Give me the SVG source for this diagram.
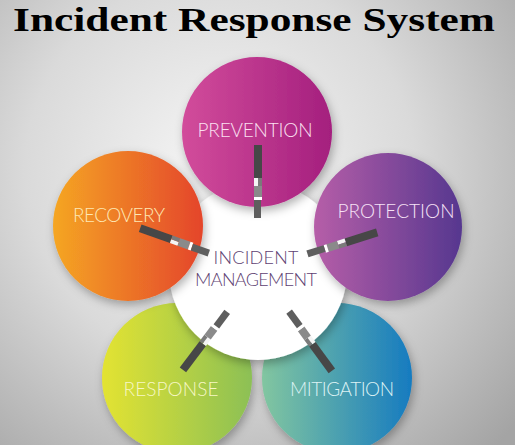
<svg xmlns="http://www.w3.org/2000/svg" width="515" height="445" viewBox="0 0 515 445">
  <defs>
    <radialGradient id="bg" cx="220" cy="170" r="390" gradientUnits="userSpaceOnUse">
      <stop offset="0" stop-color="#f6f6f6"/>
      <stop offset="0.5" stop-color="#dadada"/>
      <stop offset="1" stop-color="#a4a4a4"/>
    </radialGradient>
    <linearGradient id="gPrev" x1="0" y1="0" x2="1" y2="0">
      <stop offset="0" stop-color="#d24c9b"/>
      <stop offset="1" stop-color="#a41f7e"/>
    </linearGradient>
    <linearGradient id="gRec" x1="0" y1="0" x2="1" y2="0">
      <stop offset="0" stop-color="#f5a623"/>
      <stop offset="1" stop-color="#e4452c"/>
    </linearGradient>
    <linearGradient id="gProt" x1="0" y1="0" x2="1" y2="0">
      <stop offset="0" stop-color="#b65ea8"/>
      <stop offset="1" stop-color="#56378f"/>
    </linearGradient>
    <linearGradient id="gResp" x1="0" y1="0" x2="1" y2="0">
      <stop offset="0" stop-color="#e3e332"/>
      <stop offset="1" stop-color="#8cc055"/>
    </linearGradient>
    <linearGradient id="gMit" x1="0" y1="0" x2="1" y2="0">
      <stop offset="0" stop-color="#82c6a0"/>
      <stop offset="1" stop-color="#167bc0"/>
    </linearGradient>
    <filter id="sh" x="-30%" y="-30%" width="160%" height="160%">
      <feDropShadow dx="2" dy="4" stdDeviation="5" flood-color="#000" flood-opacity="0.3"/>
    </filter>
    <g id="bar">
      <rect x="92" y="-4" width="33" height="8" fill="#474747"/>
      <rect x="84" y="-4" width="8" height="4" fill="#f4f4f4"/>
      <rect x="84" y="0" width="8" height="4" fill="#7a7a7a"/>
      <rect x="73" y="-4" width="11" height="8" fill="#8a8a8a"/>
      <rect x="70" y="-4" width="3" height="8" fill="#ffffff"/>
      <rect x="52" y="-4" width="18" height="7" fill="#5e5e5e"/>
    </g>
  </defs>
  <style>
    .lbl { font-family: Lato, "Open Sans", "Liberation Sans", sans-serif; font-weight: 300; font-size: 19px; text-anchor: middle; }
    .ctr { font-family: Lato, "Open Sans", "Liberation Sans", sans-serif; font-weight: 300; font-size: 18px; text-anchor: middle; fill: #5e3f72; }
  </style>
  <rect width="515" height="445" fill="url(#bg)"/>
  <text x="254" y="31" font-family="'Liberation Serif', 'Times New Roman', serif" font-weight="bold" font-size="33" text-anchor="middle" textLength="482" lengthAdjust="spacingAndGlyphs" fill="#000">Incident Response System</text>

  <g id="response">
    <circle cx="177" cy="378" r="75" fill="url(#gResp)" filter="url(#sh)"/>
    <text class="lbl" x="171" y="396" textLength="95" fill="#f7f7c4">RESPONSE</text>
  </g>
  <g id="mitigation">
    <circle cx="337" cy="378" r="75" fill="url(#gMit)" filter="url(#sh)"/>
    <text class="lbl" x="342" y="396" textLength="104" fill="#dcf2f4">MITIGATION</text>
  </g>
  <g id="incident-management">
    <circle cx="258" cy="271" r="89" fill="#ffffff" filter="url(#sh)"/>
    <text class="ctr" x="256" y="264" textLength="85">INCIDENT</text>
    <text class="ctr" x="256" y="286" textLength="122">MANAGEMENT</text>
  </g>
  <g id="prevention">
    <circle cx="257" cy="132" r="75" fill="url(#gPrev)" filter="url(#sh)"/>
    <text class="lbl" x="255" y="137" textLength="115" fill="#fbe0f1">PREVENTION</text>
  </g>
  <g id="recovery">
    <circle cx="128" cy="226" r="75" fill="url(#gRec)" filter="url(#sh)"/>
    <text class="lbl" x="119" y="222" textLength="92" fill="#fde8b4">RECOVERY</text>
  </g>
  <g id="protection">
    <circle cx="388" cy="227" r="74" fill="url(#gProt)" filter="url(#sh)"/>
    <text class="lbl" x="396" y="218" textLength="117" fill="#f6e2f6">PROTECTION</text>
  </g>

  <g id="connectors">
    <use href="#bar" transform="translate(258,270) rotate(-90)"/>
    <use href="#bar" transform="translate(258,270) rotate(-160.5)"/>
    <use href="#bar" transform="translate(258,270) rotate(-17.5)"/>
    <use href="#bar" transform="translate(258,270) rotate(126.9)"/>
    <use href="#bar" transform="translate(258,270) rotate(53.8)"/>
  </g>
</svg>
